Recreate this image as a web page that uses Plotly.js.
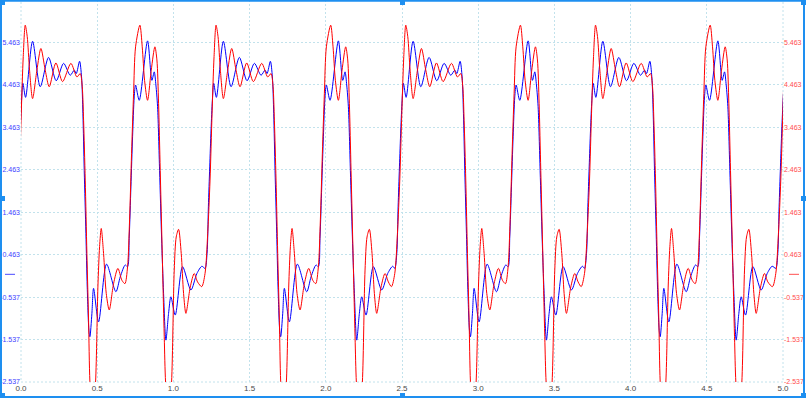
<!DOCTYPE html>
<html>
<head>
<meta charset="utf-8">
<script src="https://cdn.plot.ly/plotly-3.0.1.min.js"></script>
<style>
html,body{margin:0;padding:0;background:#fff;overflow:hidden}
#chart{width:806px;height:398px}
</style>
</head>
<body>
<div id="chart"></div>
<script>
// Start of each cycle (rising edge of the long high)
const cycleStarts = [-0.005, 1.247, 2.492, 3.737, 4.992];

// One cycle of the blue trace, offsets from cycle start and values
const blueOffsets = [-0.0394, -0.0262, -0.0175, -0.0087, 0, 0.0087, 0.0175, 0.0350, 0.0809, 0.1312,
  0.1859, 0.2362, 0.2843, 0.3281, 0.3543, 0.3675, 0.3893, 0.4024, 0.4112, 0.4199,
  0.4309, 0.4396, 0.4506, 0.4571, 0.4703, 0.4812, 0.5140, 0.5665, 0.6277, 0.6562,
  0.6890, 0.7043, 0.7152, 0.7262, 0.7371, 0.7480, 0.7568, 0.7808, 0.8355, 0.8640,
  0.8793, 0.8902, 0.9011, 0.9143, 0.9274, 0.9405, 0.9558, 0.9733, 0.9886, 1.0171,
  1.0652, 1.1199, 1.1592, 1.1920];
const blueValues = [0.14, 0.49, 1.59, 2.53, 3.40, 4.10, 4.50, 4.17, 5.49, 4.42,
  5.11, 4.56, 4.97, 4.69, 4.81, 4.73, 5.02, 4.65, 3.79, 2.45,
  0.96, -0.30, -1.32, -1.47, -0.92, -0.33, -1.12, 0.24, -0.41, -0.06,
  0.22, 0.18, 0.88, 2.06, 3.24, 4.18, 4.46, 4.10, 5.50, 4.57,
  4.77, 4.46, 3.95, 2.45, 0.88, -0.45, -1.55, -0.92, -0.53, -0.96,
  0.18, -0.37, 0.02, 0.19];

// One cycle of the red trace
const redOffsets = [-0.0612, -0.0394, -0.0219, -0.0066, 0.0066, 0.0197, 0.0328, 0.0459, 0.0612, 0.0809,
  0.1094, 0.1356, 0.1640, 0.1903, 0.2340, 0.2778, 0.3325, 0.3718, 0.3937, 0.4068,
  0.4156, 0.4265, 0.4374, 0.4484, 0.4571, 0.4746, 0.4943, 0.5096, 0.5206, 0.5315,
  0.5468, 0.5643, 0.5840, 0.6124, 0.6409, 0.6671, 0.6868, 0.7043, 0.7174, 0.7305,
  0.7437, 0.7568, 0.7852, 0.8005, 0.8158, 0.8355, 0.8596, 0.8836, 0.8968, 0.9077,
  0.9186, 0.9318, 0.9449, 0.9536, 0.9733, 0.9930, 1.0105, 1.0236, 1.0389, 1.0564,
  1.0717, 1.0871, 1.1155, 1.1417, 1.1636];
const redValues = [-0.29, 0.02, 0.96, 2.22, 3.79, 5.13, 5.87, 5.60, 4.81, 4.14,
  4.81, 5.32, 4.81, 4.42, 4.98, 4.54, 4.97, 4.65, 4.73, 4.42,
  3.63, 2.22, 0.49, -1.08, -2.53, -3.5, -2.54, -0.30, 0.65, 1.08,
  0.49, -0.45, -0.84, -0.22, 0.14, -0.14, -0.22, 0.18, 1.28, 2.85,
  4.26, 5.36, 5.87, 5.36, 4.57, 4.10, 4.81, 5.36, 5.05, 4.03,
  2.45, 0.49, -1.47, -2.54, -3.5, -2.54, 0.10, 0.88, 1.06, 0.49,
  -0.45, -0.92, -0.30, 0.02, -0.18];

const yTickVals = [-2.537, -1.537, -0.537, 0.463, 1.463, 2.463, 3.463, 4.463, 5.463, 6.463];
const yTickText = ['-2.537', '-1.537', '-0.537', '0.463', '1.463', '2.463', '3.463', '4.463', '5.463', '6.463'];
const xTickVals = [0, 0.5, 1, 1.5, 2, 2.5, 3, 3.5, 4, 4.5, 5];
const xTickText = ['0.0', '0.5', '1.0', '1.5', '2.0', '2.5', '3.0', '3.5', '4.0', '4.5', '5.0'];

function buildSeries(offsets, values) {
  const x = [], y = [];
  cycleStarts.forEach(function (s) {
    offsets.forEach(function (o, i) {
      x.push(+(s + o).toFixed(4));
      y.push(values[i]);
    });
  });
  return {x: x, y: y};
}

const W = 806, H = 398;
const M = {l: 21, r: 23, t: 0, b: 16};
const PW = W - M.l - M.r, PH = H - M.t - M.b;
function px(v) { return (v - M.l) / PW; }
function py(v) { return 1 - (v - M.t) / PH; }

const blue = buildSeries(blueOffsets, blueValues);
const red = buildSeries(redOffsets, redValues);

const gridColor = '#c2e2ec';
const frameColor = '#1e8ff0';

const traces = [
  {x: red.x, y: red.y, type: 'scatter', mode: 'lines', yaxis: 'y2',
   line: {color: '#ff0000', width: 1, shape: 'spline', smoothing: 0.8}, hoverinfo: 'skip'},
  {x: blue.x, y: blue.y, type: 'scatter', mode: 'lines', yaxis: 'y',
   line: {color: '#0000ff', width: 1, shape: 'spline', smoothing: 0.8}, hoverinfo: 'skip'}
];

const shapes = [
  // plot edges (dashed grid border)
  {type: 'rect', xref: 'paper', yref: 'paper', x0: 0, x1: 1, y0: 0, y1: 1,
   line: {color: gridColor, width: 1, dash: '2px,2px'}, layer: 'below'},
  // zero markers in margins
  {type: 'line', xref: 'paper', yref: 'y', x0: px(5), x1: px(15), y0: 0, y1: 0,
   line: {color: '#4a4aff', width: 1}},
  {type: 'line', xref: 'paper', yref: 'y', x0: px(789), x1: px(799), y0: 0, y1: 0,
   line: {color: '#ff5050', width: 1}},
  // selection frame
  {type: 'line', xref: 'paper', yref: 'paper', x0: px(0), x1: px(806), y0: py(0.8), y1: py(0.8), line: {color: frameColor, width: 2}},
  {type: 'line', xref: 'paper', yref: 'paper', x0: px(0), x1: px(806), y0: py(397), y1: py(397), line: {color: frameColor, width: 2}},
  {type: 'line', xref: 'paper', yref: 'paper', x0: px(1), x1: px(1), y0: py(0), y1: py(398), line: {color: frameColor, width: 2}},
  {type: 'line', xref: 'paper', yref: 'paper', x0: px(804), x1: px(804), y0: py(0), y1: py(398), line: {color: frameColor, width: 2}}
];
// handles
[[0, 0], [400, 0], [801, 0], [0, 196], [801, 196], [0, 393], [400, 393], [801, 393]].forEach(function (p) {
  shapes.push({type: 'rect', xref: 'paper', yref: 'paper', x0: px(p[0]), x1: px(p[0] + 5), y0: py(p[1]), y1: py(p[1] + 5),
    line: {width: 0}, fillcolor: frameColor});
});

const layout = {
  width: W, height: H,
  margin: M,
  paper_bgcolor: '#ffffff', plot_bgcolor: '#ffffff',
  showlegend: false,
  hovermode: false,
  font: {family: 'Liberation Sans, Arial, sans-serif', size: 7},
  xaxis: {
    range: [0, 5], tickvals: xTickVals, ticktext: xTickText,
    showgrid: true, gridcolor: gridColor, griddash: '2px,2px', gridwidth: 1,
    zeroline: false, showline: false, ticks: '',
    tickfont: {size: 8, color: '#4a4a4a'}, automargin: false
  },
  yaxis: {
    range: [-2.537, 6.463], tickvals: yTickVals, ticktext: yTickText,
    showgrid: true, gridcolor: gridColor, griddash: '2px,2px', gridwidth: 1,
    zeroline: false, showline: false, ticks: '',
    tickfont: {size: 7, color: '#4040ff'}, automargin: false
  },
  yaxis2: {
    range: [-2.537, 6.463], tickvals: yTickVals, ticktext: yTickText,
    overlaying: 'y', side: 'right',
    showgrid: false, zeroline: false, showline: false, ticks: '',
    tickfont: {size: 7, color: '#ff4d4d'}, automargin: false
  },
  shapes: shapes
};

Plotly.newPlot('chart', traces, layout, {staticPlot: true, displayModeBar: false});
</script>
</body>
</html>
